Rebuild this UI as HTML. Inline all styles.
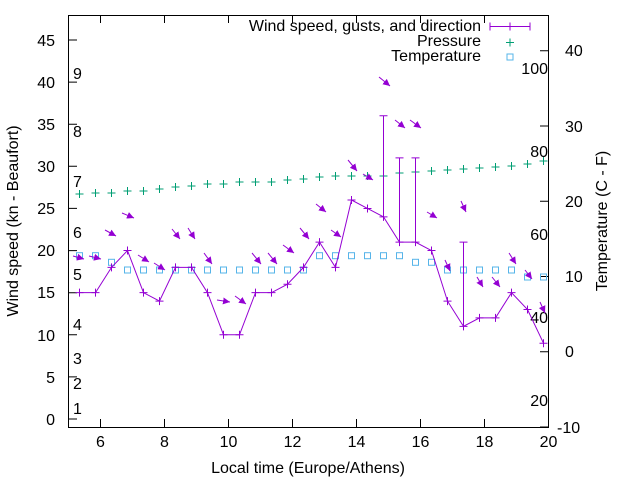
<!DOCTYPE html>
<html><head><meta charset="utf-8"><style>html,body{margin:0;padding:0;background:#fff}svg{display:block}text{font-family:"Liberation Sans",sans-serif;font-size:16px;fill:#000}</style></head><body>
<svg width="640" height="480" viewBox="0 0 640 480" xmlns="http://www.w3.org/2000/svg">
<defs>
<marker id="ah" viewBox="0 0 10 10" refX="10" refY="5" markerWidth="7" markerHeight="7" markerUnits="userSpaceOnUse" orient="auto"><path d="M0,0 L10,5 L0,10 z" fill="#9400d3"/></marker>
</defs>
<rect x="68.5" y="15.5" width="480" height="412" fill="none" stroke="#000" stroke-width="1"/>
<g stroke="#000" stroke-width="1">
<path d="M68.5,419H77M68.5,376.9H77M68.5,334.8H77M68.5,292.7H77M68.5,250.6H77M68.5,208.4H77M68.5,166.3H77M68.5,124.2H77M68.5,82.1H77M68.5,40H77"/>
<path d="M100.5,427V419M164.5,427V419M228.5,427V419M292.5,427V419M356.5,427V419M420.5,427V419M484.5,427V419M100.5,15V23M164.5,15V23M228.5,15V23M292.5,15V23M356.5,15V23M420.5,15V23M484.5,15V23"/>
<path d="M548.5,427H540M548.5,351.7H540M548.5,276.5H540M548.5,201.3H540M548.5,126H540M548.5,50.8H540"/>
</g>
<g text-anchor="end">
<text x="55" y="425">0</text><text x="55" y="383">5</text><text x="55" y="341">10</text><text x="55" y="298">15</text><text x="55" y="256">20</text><text x="55" y="214">25</text><text x="55" y="172">30</text><text x="55" y="130">35</text><text x="55" y="88">40</text><text x="55" y="46">45</text>
</g>
<g text-anchor="middle">
<text x="100.5" y="447">6</text><text x="164.5" y="447">8</text><text x="228.5" y="447">10</text><text x="292.5" y="447">12</text><text x="356.5" y="447">14</text><text x="420.5" y="447">16</text><text x="484.5" y="447">18</text><text x="548.5" y="447">20</text>
<text x="308" y="473">Local time (Europe/Athens)</text>
</g>
<g text-anchor="start">
<text x="557" y="433">-10</text><text x="565" y="357">0</text><text x="565" y="282">10</text><text x="565" y="207">20</text><text x="565" y="132">30</text><text x="565" y="56">40</text>
<text x="73" y="79">9</text><text x="73" y="137">8</text><text x="73" y="187">7</text><text x="73" y="238">6</text><text x="73" y="280">5</text><text x="73" y="330">4</text><text x="73" y="364">3</text><text x="73" y="389">2</text><text x="73" y="414">1</text>
</g>
<g text-anchor="end">
<text x="548" y="74">100</text><text x="548" y="157">80</text><text x="548" y="240">60</text><text x="548" y="323">40</text><text x="548" y="406">20</text>
</g>
<text transform="translate(18,221) rotate(-90)" text-anchor="middle">Wind speed (kn - Beaufort)</text>
<text transform="translate(607,221) rotate(-90)" text-anchor="middle">Temperature (C - F)</text>
<g text-anchor="end"><text x="481" y="31">Wind speed, gusts, and direction</text><text x="481" y="46">Pressure</text><text x="481" y="61">Temperature</text></g>
<g stroke="#9400d3" stroke-width="1"><path d="M490,26.5H530M490,22.5V30.5M530,22.5V30.5M510,22.5V30.5"/></g>
<g stroke="#009e73" stroke-width="1"><path d="M506,42.5H514M510,38.5V46.5"/></g>
<rect x="507" y="54" width="6" height="6" fill="none" stroke="#56b4e9"/>
<g id="plot"></g>
<script>
(function(){
var NS="http://www.w3.org/2000/svg",g=document.getElementById("plot");
function X(k){return 79.5+16*k;}function Y(v){return 419-8.422*v;}
function el(n,a){var e=document.createElementNS(NS,n);for(var k in a)e.setAttribute(k,a[k]);g.appendChild(e);return e;}
var temp=[255.7,255.7,262.3,270,270,270,270,270,270,270,270,270,270,270,270,255.7,255.7,255.7,255.7,255.7,255.7,262.3,262.3,270,270,270,270,270,277,277];
temp.forEach(function(y,k){el("rect",{x:X(k)-3,y:y-3,width:6,height:6,fill:"none",stroke:"#56b4e9"});});
var pr=[194,193,193,191,191,189,187,186,184,184,182,182,182,180,179,177,176,176,176,176,173,172,171,170,169,168,167,166,164,161];
var d="";pr.forEach(function(y,k){var x=X(k);d+="M"+(x-4)+","+y+"H"+(x+4)+"M"+x+","+(y-4)+"V"+(y+4);});
el("path",{d:d,stroke:"#009e73","stroke-width":1,fill:"none"});
var w=[15,15,18,20,15,14,18,18,15,10,10,15,15,16,18,21,18,26,25,24,21,21,20,14,11,12,12,15,13,9];
var pts=w.map(function(v,k){return X(k)+","+Y(v);}).join(" ");
el("polyline",{points:pts,fill:"none",stroke:"#9400d3","stroke-width":1});
d="";w.forEach(function(v,k){var x=X(k),y=Y(v);d+="M"+(x-4)+","+y+"H"+(x+4)+"M"+x+","+(y-4)+"V"+(y+4);});
var gust=[[19,24,36],[20,21,31],[21,21,31],[24,11,21]];
gust.forEach(function(a){var x=X(a[0]),y1=Y(a[1]),y2=Y(a[2]);d+="M"+x+","+y1+"V"+y2+"M"+(x-4)+","+y2+"H"+(x+4)+"M"+(x-4)+","+y1+"H"+(x+4);});
el("path",{d:d,stroke:"#9400d3","stroke-width":1,fill:"none"});
var ar=[[73,256,84,259],[89,256,101,259],[105,230,116,236],[122,213,134,218],[138,255,149,262],[154,263,165,270],[172,229,180,239],[188,228,195,239],[204,253,212,264],[217,300,230,302],[235,296,246,304],[252,253,261,264],[268,253,277,264],[283,245,294,253],[300,228,309,239],[316,204,326,212],[331,230,341,237],[348,160,357,171],[363,174,373,180],[379,77,390,86],[395,120,405,128],[410,120,421,128],[427,212,437,218],[445,260,450,271],[461,201,466,212],[477,277,483,287],[492,277,500,287],[509,253,516,264],[525,270,532,279],[540,302,545,313]];
ar.forEach(function(a){el("line",{x1:a[0],y1:a[1],x2:a[2],y2:a[3],stroke:"#9400d3","stroke-width":1,"marker-end":"url(#ah)"});});
})();
</script>
</svg>
</body></html>
